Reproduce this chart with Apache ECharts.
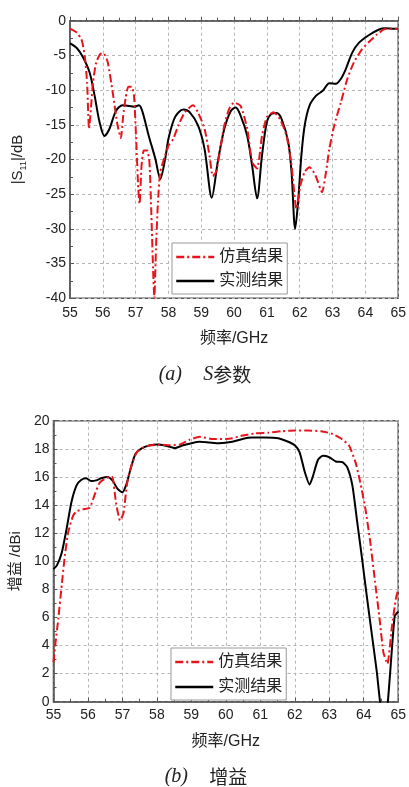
<!DOCTYPE html>
<html>
<head>
<meta charset="utf-8">
<script src="https://cdn.jsdelivr.net/npm/echarts@6/dist/echarts.min.js"></script>
<style>
  html, body { margin: 0; padding: 0; background: #fff; }
  #main { width: 409px; height: 787px; }
</style>
</head>
<body>
<div id="main"></div>
<script>
// (a) S11 in dB, [GHz, dB]
const simS11 = [
  [55.0,-1.15],[55.2,-1.7],[55.35,-2.7],[55.45,-5.1],[55.52,-8.9],[55.58,-15.6],[55.62,-13.7],
  [55.7,-8.9],[55.8,-6],[55.92,-4.8],[56.02,-4.7],[56.15,-6],[56.3,-10.3],[56.45,-15.1],
  [56.55,-16.9],[56.62,-13.7],[56.7,-11],[56.78,-9.5],[56.88,-9.5],[56.95,-10.8],[57.02,-17.5],
  [57.08,-24.2],[57.12,-26.4],[57.18,-20.9],[57.25,-18.7],[57.35,-18.7],[57.42,-20.4],[57.48,-28],
  [57.53,-35.7],[57.57,-40],[57.62,-32.8],[57.68,-26.1],[57.75,-21.8],[57.9,-19.4],[58.0,-18],
  [58.15,-17],[58.3,-15.1],[58.5,-13.2],[58.75,-12.2],[58.9,-13.2],[59.1,-15.6],[59.25,-19.4],
  [59.35,-22.4],[59.45,-21.8],[59.58,-18.5],[59.7,-15.1],[59.85,-12.7],[60.0,-11.8],[60.2,-12.3],
  [60.4,-15.6],[60.55,-20.4],[60.7,-21.3],[60.85,-16.6],[61.0,-13.9],[61.2,-13.2],[61.4,-14.2],
  [61.6,-16.6],[61.75,-20.9],[61.9,-27.1],[62.02,-23.7],[62.15,-21.8],[62.3,-21.1],[62.48,-22.3],
  [62.68,-24.7],[62.8,-21.8],[62.9,-18.5],[63.05,-15.1],[63.25,-11.8],[63.45,-8.4],[63.65,-6],
  [63.9,-4.1],[64.1,-3.1],[64.35,-2.0],[64.6,-1.2],[65.0,-1.15]
];
const measS11 = [
  [55.0,-3.25],[55.2,-3.9],[55.4,-5.3],[55.6,-7.5],[55.75,-10.8],[55.9,-14.6],[56.05,-16.6],
  [56.2,-15.6],[56.4,-13],[56.6,-12.2],[56.8,-12.3],[56.95,-12.4],[57.1,-12.2],[57.2,-13],
  [57.4,-16.6],[57.6,-19.9],[57.75,-22.8],[57.9,-19.9],[58.0,-17],[58.2,-13.9],[58.45,-12.8],
  [58.65,-13.2],[58.9,-15.1],[59.1,-18.5],[59.32,-25.5],[59.5,-20.4],[59.7,-15.6],[59.9,-13],
  [60.05,-12.5],[60.2,-13.7],[60.4,-16.6],[60.55,-20.9],[60.7,-25.6],[60.85,-19.4],[61.0,-14.6],
  [61.15,-13.4],[61.3,-13.3],[61.45,-14.2],[61.65,-17.5],[61.75,-21.8],[61.86,-30],[61.95,-26.1],
  [62.05,-19.4],[62.15,-15.1],[62.3,-12.2],[62.5,-10.8],[62.7,-10.1],[62.9,-9.0],[63.1,-9.1],
  [63.25,-8.4],[63.4,-7.0],[63.6,-4.6],[63.8,-3.2],[64.1,-2.1],[64.4,-1.3],[64.6,-1.1],
  [64.9,-1.15],[65.0,-1.15]
];

// (b) gain in dBi, [GHz, dBi]
const simGain = [
  [55.0,2.8],[55.05,4.0],[55.14,5.9],[55.24,8.3],[55.33,10.4],[55.43,12.1],[55.57,13.25],
  [55.67,13.55],[55.86,13.7],[56.05,13.8],[56.19,14.7],[56.33,15.55],[56.48,15.85],[56.62,16.0],
  [56.71,16.0],[56.81,14.2],[56.93,12.9],[57.03,13.4],[57.14,15.6],[57.29,17.05],[57.43,17.8],
  [57.62,18.1],[57.81,18.25],[58.1,18.3],[58.38,18.25],[58.67,18.3],[58.95,18.65],[59.24,18.85],
  [59.62,18.7],[60.0,18.7],[60.19,18.75],[60.48,18.95],[60.86,19.1],[61.24,19.15],[61.62,19.25],
  [62.0,19.3],[62.38,19.3],[62.76,19.25],[63.05,19.1],[63.33,18.75],[63.57,18.25],[63.76,17.05],
  [63.9,15.6],[64.05,13.7],[64.19,11.35],[64.33,8.5],[64.46,5.9],[64.57,3.5],[64.69,2.7],
  [64.81,5.2],[64.93,7.3],[65.0,8.0]
];
const measGain = [
  [55.0,9.45],[55.1,9.7],[55.24,10.6],[55.38,12.3],[55.52,14.2],[55.67,15.4],[55.81,15.8],
  [55.95,15.9],[56.1,15.7],[56.24,15.75],[56.38,15.9],[56.57,16.0],[56.71,15.75],[56.86,15.15],
  [57.0,14.9],[57.12,15.5],[57.24,16.6],[57.38,17.65],[57.57,18.05],[57.81,18.25],[58.0,18.3],
  [58.29,18.2],[58.52,18.05],[58.76,18.25],[59.0,18.4],[59.24,18.5],[59.52,18.45],[59.81,18.4],
  [60.19,18.5],[60.48,18.7],[60.76,18.8],[61.14,18.8],[61.52,18.75],[61.81,18.5],[62.0,18.25],
  [62.14,17.75],[62.29,16.35],[62.43,15.45],[62.52,16.0],[62.67,17.2],[62.81,17.5],[63.0,17.4],
  [63.19,17.1],[63.38,17.05],[63.52,16.7],[63.67,15.4],[63.81,12.8],[63.95,10.2],[64.1,7.3],
  [64.24,4.7],[64.38,2.1],[64.5,-0.5],[64.6,-1],[64.68,-0.5],[64.81,3.5],[64.9,6.1],[65.0,6.4]
];

const seriesNames = ['仿真结果', '实测结果'];
const font = '"Liberation Sans", Arial, "Noto Sans CJK SC", sans-serif';
const axisColor = '#555';

const chart = echarts.init(document.getElementById('main'));

function xAxisFor(gridIndex, margin) {
  return {
    type: 'value', gridIndex: gridIndex, min: 55, max: 65, interval: 1,
    name: '频率/GHz', nameLocation: 'middle', nameGap: 32,
    nameTextStyle: { fontFamily: font, fontSize: 16, color: '#222' },
    axisLine: { lineStyle: { color: axisColor, width: 1.5 } },
    axisTick: { inside: true, length: 4, lineStyle: { color: axisColor } },
    minorTick: { show: true, splitNumber: 2, length: 3, lineStyle: { color: axisColor } },
    axisLabel: { fontFamily: font, fontSize: 14, color: '#222', margin: margin },
    splitLine: { show: true, lineStyle: { color: '#b5b5b5', type: [3, 3] } }
  };
}

function yAxisFor(gridIndex, min, max, interval, name, gap, extra) {
  return Object.assign({
    type: 'value', gridIndex: gridIndex, min: min, max: max, interval: interval,
    name: name, nameLocation: 'middle', nameGap: gap,
    axisLine: { show: true, lineStyle: { color: axisColor, width: 1.5 } },
    axisTick: { show: true, inside: true, length: 4, lineStyle: { color: axisColor } },
    minorTick: { show: true, splitNumber: 2, length: 3, lineStyle: { color: axisColor } },
    axisLabel: { fontFamily: font, fontSize: 14, color: '#222', margin: 4 },
    splitLine: { show: true, lineStyle: { color: '#b5b5b5', type: [3, 3] } }
  }, extra);
}

const simStyle = { color: '#e8141b', width: 2, type: [8, 3, 2, 3] };
const measStyle = { color: '#000', width: 2 };

function legendFor(left, top, gap) {
  return {
    data: seriesNames,
    orient: 'vertical', left: left, top: top,
    itemWidth: 38, itemHeight: 14, itemGap: gap,
    padding: [6, 4, 5, 3],
    backgroundColor: '#fff', borderColor: '#999', borderWidth: 1,
    itemStyle: { opacity: 0 },
    lineStyle: { width: 2.5 },
    textStyle: { fontFamily: font, fontSize: 16, color: '#222' },
    selectedMode: false
  };
}

const captionRich = {
  i: { fontFamily: '"Liberation Serif", serif', fontStyle: 'italic', fontSize: 20, fill: '#222' }
};

chart.setOption({
  animation: false,
  grid: [
    { left: 67, top: 20.7, right: 9, height: 277.6, show: true, borderColor: axisColor, borderWidth: 1.5 },
    { left: 53, top: 420.7, right: 6, height: 281, show: true, borderColor: axisColor, borderWidth: 1.5 }
  ],
  xAxis: [xAxisFor(0, 8), xAxisFor(1, 6)],
  yAxis: [
    yAxisFor(0, -40, 0, 5, '|S{sub|11}|/dB', 42, {
      nameTextStyle: {
        fontFamily: font, fontSize: 15, color: '#222', lineHeight: 18,
        rich: { sub: { fontFamily: font, fontSize: 9, color: '#222', verticalAlign: 'bottom', lineHeight: 20 } }
      }
    }),
    yAxisFor(1, 0, 20, 2, '增益 /dBi', 30, {
      nameTextStyle: { fontFamily: font, fontSize: 15, color: '#222' }
    })
  ],
  legend: [legendFor(172, 243, 8), legendFor(171, 648, 9)],
  graphic: [
    {
      type: 'text', x: 205, y: 375,
      style: {
        text: '{i|(a)}     {i|S}参数', align: 'center', verticalAlign: 'middle',
        fontFamily: '"Noto Sans CJK SC", sans-serif', fontSize: 19, fill: '#222', rich: captionRich
      }
    },
    {
      type: 'text', x: 206, y: 777,
      style: {
        text: '{i|(b)}     增益', align: 'center', verticalAlign: 'middle',
        fontFamily: '"Noto Sans CJK SC", sans-serif', fontSize: 19, fill: '#222', rich: captionRich
      }
    }
  ],
  series: [
    { name: seriesNames[1], type: 'line', xAxisIndex: 0, yAxisIndex: 0, data: measS11,
      showSymbol: false, symbol: 'none', smooth: 0.3, lineStyle: measStyle, itemStyle: { color: '#000' } },
    { name: seriesNames[0], type: 'line', xAxisIndex: 0, yAxisIndex: 0, data: simS11,
      showSymbol: false, symbol: 'none', smooth: 0.2, lineStyle: simStyle, itemStyle: { color: '#e8141b' } },
    { name: seriesNames[1], type: 'line', xAxisIndex: 1, yAxisIndex: 1, data: measGain,
      showSymbol: false, symbol: 'none', smooth: 0.2, lineStyle: measStyle, itemStyle: { color: '#000' } },
    { name: seriesNames[0], type: 'line', xAxisIndex: 1, yAxisIndex: 1, data: simGain,
      showSymbol: false, symbol: 'none', smooth: 0.15, lineStyle: simStyle, itemStyle: { color: '#e8141b' } }
  ]
});
</script>
</body>
</html>
